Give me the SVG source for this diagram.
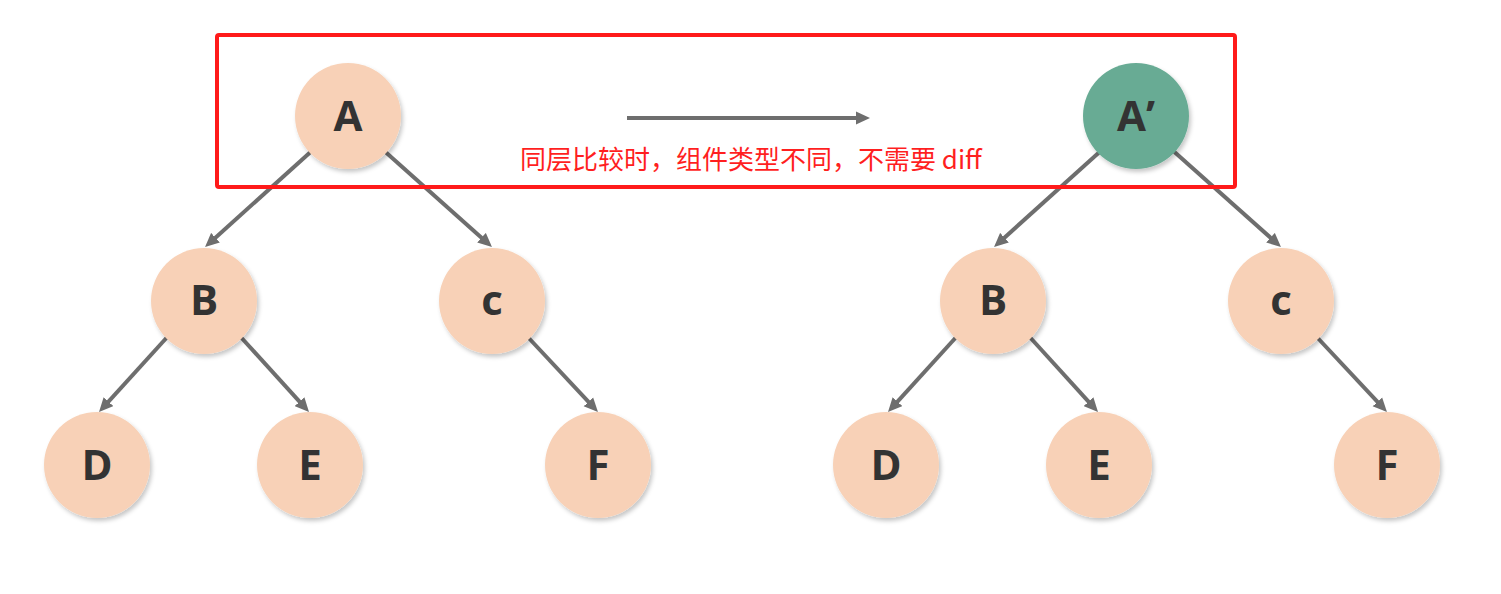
<svg xmlns="http://www.w3.org/2000/svg" width="1501" height="594" viewBox="0 0 1501 594">
<style>
.edge{stroke:#6e6e6e;stroke-width:4;fill:none;marker-end:url(#ah)}
.node{fill:#f8d1b7;filter:url(#sh)}
.green{fill:#68ab94;filter:url(#sh)}
.lbl{font-family:"Open Sans","Liberation Sans",sans-serif;font-weight:bold;font-size:42px;fill:#333;text-anchor:middle}
.note{font-family:"Noto Sans CJK SC","Liberation Sans",sans-serif;font-size:26px;fill:#ff1f1f}
</style>
<defs>
<marker id="ah" markerUnits="userSpaceOnUse" markerWidth="15" markerHeight="14" refX="6" refY="7" orient="auto">
<path d="M0,0.5 L14,7 L0,13.5 z" fill="#6e6e6e"/>
</marker>
<filter id="sh" x="-20%" y="-20%" width="150%" height="150%">
<feDropShadow dx="2" dy="3" stdDeviation="2" flood-color="#000" flood-opacity="0.22"/>
</filter>
</defs>
<rect width="1501" height="594" fill="#fff"/>
<g id="connectors">
<line class="edge" x1="315" y1="148" x2="211" y2="241.7"/>
<line class="edge" x1="381" y1="148" x2="486" y2="241.7"/>
<line class="edge" x1="170" y1="334" x2="104.4" y2="406.1"/>
<line class="edge" x1="238" y1="334" x2="303.6" y2="406.1"/>
<line class="edge" x1="525" y1="334" x2="592.5" y2="406.2"/>
<line class="edge" x1="1104" y1="148" x2="1000" y2="241.7"/>
<line class="edge" x1="1170" y1="148" x2="1275" y2="241.7"/>
<line class="edge" x1="959" y1="334" x2="893.4" y2="406.1"/>
<line class="edge" x1="1027" y1="334" x2="1092.6" y2="406.1"/>
<line class="edge" x1="1314" y1="334" x2="1381.5" y2="406.2"/>
<line class="edge" x1="627" y1="118" x2="862" y2="118"/>
</g>
<g id="node-A"><circle class="node" cx="348" cy="116" r="53"/><text class="lbl" x="348" y="131">A</text></g>
<g id="node-B"><circle class="node" cx="204" cy="301" r="53"/><text class="lbl" x="204" y="315">B</text></g>
<g id="node-C"><circle class="node" cx="492" cy="301" r="53"/><text class="lbl" x="492" y="315">c</text></g>
<g id="node-D"><circle class="node" cx="97" cy="465" r="53"/><text class="lbl" x="97" y="480">D</text></g>
<g id="node-E"><circle class="node" cx="310" cy="465" r="53"/><text class="lbl" x="310" y="480">E</text></g>
<g id="node-F"><circle class="node" cx="598" cy="465" r="53"/><text class="lbl" x="598" y="480">F</text></g>
<g id="node-A2"><circle class="green" cx="1136" cy="116" r="53"/><text class="lbl" x="1136" y="131">A’</text></g>
<g id="node-B2"><circle class="node" cx="993" cy="301" r="53"/><text class="lbl" x="993" y="315">B</text></g>
<g id="node-C2"><circle class="node" cx="1281" cy="301" r="53"/><text class="lbl" x="1281" y="315">c</text></g>
<g id="node-D2"><circle class="node" cx="886" cy="465" r="53"/><text class="lbl" x="886" y="480">D</text></g>
<g id="node-E2"><circle class="node" cx="1099" cy="465" r="53"/><text class="lbl" x="1099" y="480">E</text></g>
<g id="node-F2"><circle class="node" cx="1387" cy="465" r="53"/><text class="lbl" x="1387" y="480">F</text></g>
<g id="highlight">
<rect x="217" y="35" width="1018" height="152" rx="2" fill="none" stroke="#ff1a1a" stroke-width="4"/>
<text class="note" x="520" y="169">同层比较时，组件类型不同，不需要 diff</text>
</g>
</svg>
